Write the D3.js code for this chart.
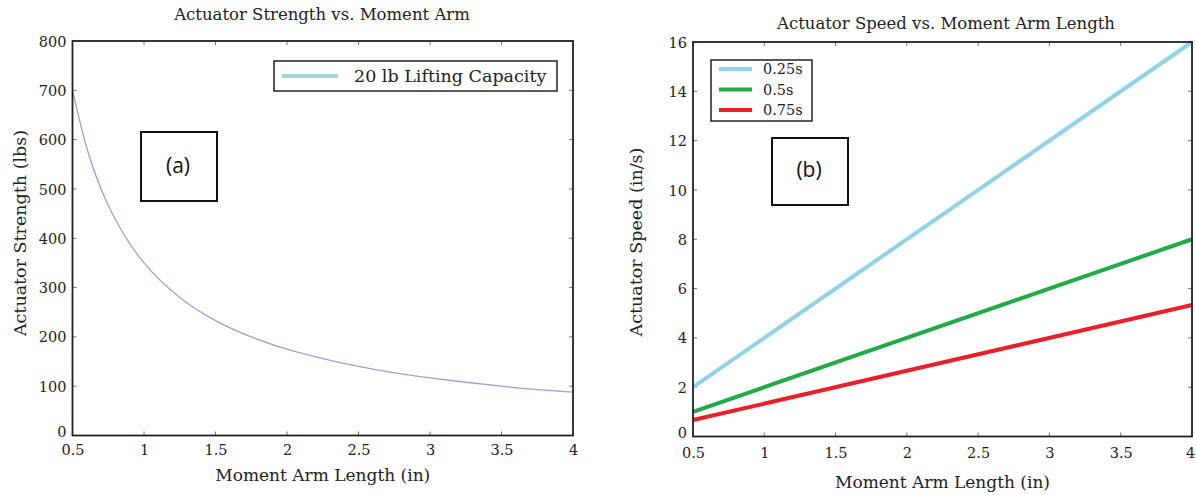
<!DOCTYPE html>
<html><head><meta charset="utf-8">
<script src="https://cdn.jsdelivr.net/npm/d3@7/dist/d3.min.js"></script>
<style>
body{margin:0;background:#fff;}
svg text{font-family:"DejaVu Serif",serif;fill:#222;}
</style></head>
<body><svg id="c" width="1196" height="495"></svg>
<script>
// ---- Data: panel (a) ----
const armA = [0.5,0.6,0.7,0.8,0.9,1.0,1.25,1.5,1.75,2.0,2.25,2.5,2.75,3.0,3.25,3.5,3.75,4.0];
const strength = [700,583,500,438,389,350,280,233,200,175,156,140,127,117,108,100,93,88];
const yTicksA = [0,100,200,300,400,500,600,700,800];
// ---- Data: panel (b) ----
const armB = [0.5,4.0];
const speed025 = [2,16];
const speed05 = [1,8];
const speed075 = [0.667,5.333];
const seriesNamesB = ["0.25s","0.5s","0.75s"];
const seriesColorsB = ["#92d2e6","#22aa44","#e8202a"];
const xTicks = [0.5,1,1.5,2,2.5,3,3.5,4];
const xTickLabels = ["0.5","1","1.5","2","2.5","3","3.5","4"];
const yTicksB = [0,2,4,6,8,10,12,14,16];

const svg = d3.select("#c");

function panel(o){
  const g = svg.append("g");
  const x = d3.scaleLinear().domain([0.5,4]).range([o.left,o.right]);
  const y = d3.scaleLinear().domain(o.ydom).range([o.bottom,o.top]);
  const tickCol="#777";
  const xa = d3.axisBottom(x).tickValues(xTicks).tickSize(0).tickFormat((d,i)=>xTickLabels[i]);
  const gx = g.append("g").attr("transform",`translate(0,${o.bottom})`).call(xa);
  gx.select(".domain").remove();
  gx.selectAll("text").attr("dy",null).attr("y",o.xlabY).style("font-size","14.5px");
  if(o.lastShift) gx.selectAll("text").filter(d=>d===4).attr("dx",o.lastShift);
  const ya = d3.axisLeft(y).tickValues(o.yticks).tickSize(0);
  const gy = g.append("g").attr("transform",`translate(${o.left},0)`).call(ya);
  gy.select(".domain").remove();
  gy.selectAll("text").attr("x",-6).attr("dy","0.35em").style("font-size","14.5px");
  gy.selectAll("text").filter(d=>d===0).attr("dy","0.05em");
  xTicks.forEach(t=>{
    g.append("line").attr("x1",x(t)).attr("x2",x(t)).attr("y1",o.bottom).attr("y2",o.bottom-4).attr("stroke",tickCol);
    g.append("line").attr("x1",x(t)).attr("x2",x(t)).attr("y1",o.top).attr("y2",o.top+4).attr("stroke",tickCol);
  });
  o.yticks.forEach(t=>{
    g.append("line").attr("x1",o.left).attr("x2",o.left+4).attr("y1",y(t)).attr("y2",y(t)).attr("stroke",tickCol);
    g.append("line").attr("x1",o.right).attr("x2",o.right-4).attr("y1",y(t)).attr("y2",y(t)).attr("stroke",tickCol);
  });
  g.append("text").attr("x",o.titleX).attr("y",o.titleY).attr("text-anchor","middle").style("font-size","16.5px").text(o.title);
  g.append("text").attr("x",(o.left+o.right)/2).attr("y",o.xTitleY).attr("text-anchor","middle").style("font-size","17px").text("Moment Arm Length (in)");
  g.append("text").attr("transform",`translate(${o.yTitleX},${o.yTitleCY}) rotate(-90)`).attr("text-anchor","middle").attr("dy","0.35em").style("font-size","17.5px").text(o.ytitle);
  return {g,x,y};
}

// Panel (a)
const A = panel({left:72.5,right:573,top:41,bottom:435.5,ydom:[0,800],yticks:yTicksA,xlabY:19,
  title:"Actuator Strength vs. Moment Arm",titleX:322,titleY:20,xTitleY:481,yTitleX:20,yTitleCY:233,ytitle:"Actuator Strength (lbs)"});
const lineA = d3.line().x((d,i)=>A.x(armA[i])).y(d=>A.y(d)).curve(d3.curveMonotoneX);
A.g.append("path").attr("d",lineA(strength)).attr("fill","none").attr("stroke","#a09fd2").attr("stroke-width",1.3);
A.g.append("rect").attr("x",72.5).attr("y",41).attr("width",573-72.5).attr("height",435.5-41).attr("fill","none").attr("stroke","#222").attr("stroke-width",1.8);
// legend a
A.g.append("rect").attr("x",274).attr("y",61).attr("width",283).attr("height",30).attr("fill","#fff").attr("stroke","#222").attr("stroke-width",1.5);
A.g.append("line").attr("x1",282).attr("x2",338).attr("y1",76).attr("y2",76).attr("stroke","#a7d6e2").attr("stroke-width",4);
A.g.append("text").attr("x",354).attr("y",76).attr("dy","0.35em").style("font-size","17.5px").text("20 lb Lifting Capacity");
// (a) box
A.g.append("rect").attr("x",141).attr("y",132).attr("width",76).attr("height",69).attr("fill","#fff").attr("stroke","#111").attr("stroke-width",2);
A.g.append("text").attr("x",178).attr("y",166).attr("dy","0.35em").attr("text-anchor","middle").style("font-family","'Open Sans',sans-serif").style("font-size","21px").style("fill","#111").text("(a)");

// Panel (b)
const B = panel({left:693,right:1192,top:42,bottom:436.5,ydom:[0,16],yticks:yTicksB,xlabY:21,lastShift:-2,
  title:"Actuator Speed vs. Moment Arm Length",titleX:946,titleY:29,xTitleY:488,yTitleX:636,yTitleCY:242,ytitle:"Actuator Speed (in/s)"});
const seriesB = [speed025,speed05,speed075];
const lineB = d3.line().x((d,i)=>B.x(armB[i])).y(d=>B.y(d));
seriesB.forEach((s,k)=>{
  B.g.append("path").attr("d",lineB(s)).attr("fill","none").attr("stroke",seriesColorsB[k]).attr("stroke-width",4);
});
B.g.append("rect").attr("x",693).attr("y",42).attr("width",499).attr("height",394.5).attr("fill","none").attr("stroke","#222").attr("stroke-width",1.8);
// legend b
B.g.append("rect").attr("x",711).attr("y",60).attr("width",101).attr("height",61).attr("fill","#fff").attr("stroke","#222").attr("stroke-width",1.5);
seriesNamesB.forEach((n,k)=>{
  const yy = 69 + k*20.5;
  B.g.append("line").attr("x1",719).attr("x2",752).attr("y1",yy).attr("y2",yy).attr("stroke",seriesColorsB[k]).attr("stroke-width",4);
  B.g.append("text").attr("x",763).attr("y",yy).attr("dy","0.35em").style("font-size","14.5px").text(n);
});
// (b) box
B.g.append("rect").attr("x",772).attr("y",138).attr("width",76).attr("height",67).attr("fill","#fff").attr("stroke","#111").attr("stroke-width",2);
B.g.append("text").attr("x",809).attr("y",170).attr("dy","0.35em").attr("text-anchor","middle").style("font-family","'Open Sans',sans-serif").style("font-size","21px").style("fill","#111").text("(b)");
</script></body></html>
